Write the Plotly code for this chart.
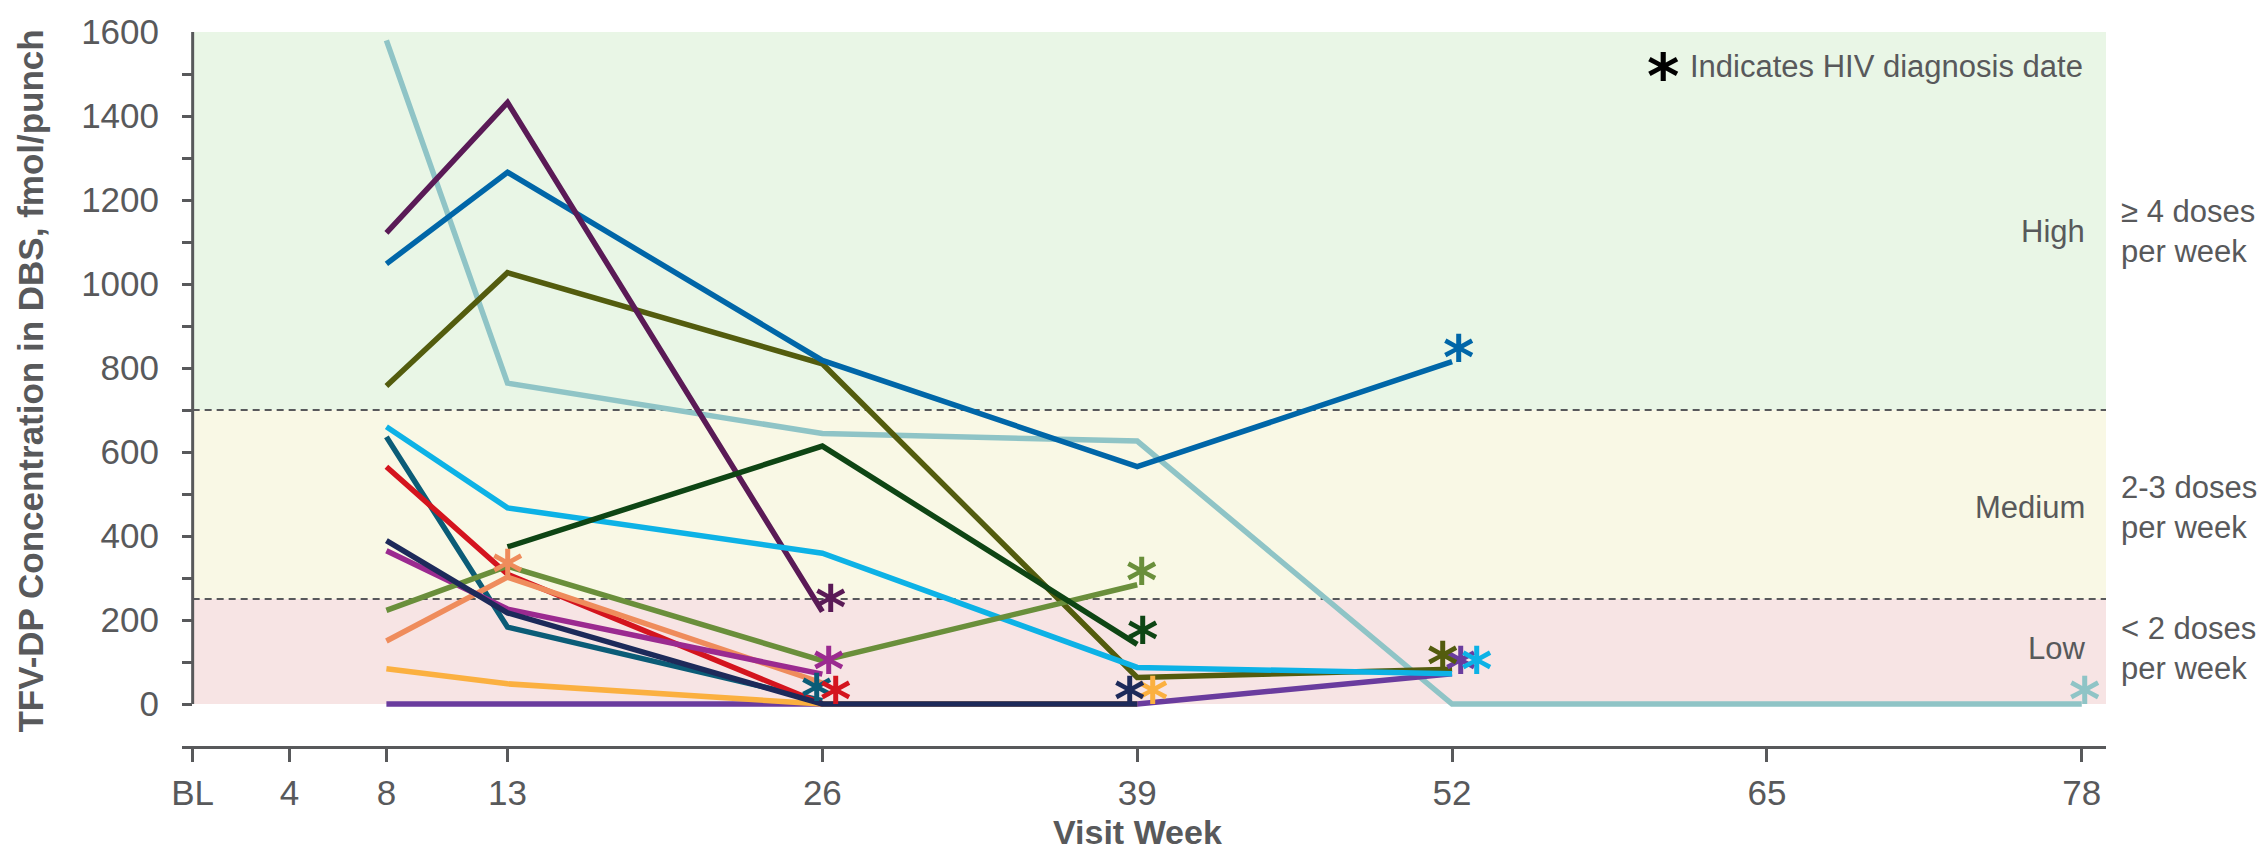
import plotly.graph_objects as go

# Visit weeks on the axis and their labels
tick_weeks = [0, 4, 8, 13, 26, 39, 52, 65, 78]
tick_labels = ["BL", "4", "8", "13", "26", "39", "52", "65", "78"]

# TFV-DP concentration per participant (fmol/punch) by visit week
p01_weeks = [8, 13, 26, 39, 52, 78]
p01_vals = [1580, 764, 644, 626, 0, 0]
p02_weeks = [8, 13, 26, 39, 52]
p02_vals = [0, 0, 0, 0, 72]
p03_weeks = [8, 13, 26, 39]
p03_vals = [84, 48, 0, 0]
p04_weeks = [8, 13, 26, 39, 52]
p04_vals = [757, 1027, 810, 63, 83]
p05_weeks = [8, 13, 26, 39, 52]
p05_vals = [1048, 1266, 818, 565, 815]
p06_weeks = [8, 13, 26]
p06_vals = [1122, 1432, 220]
p07_weeks = [8, 13, 26, 39, 52]
p07_vals = [660, 467, 359, 87, 72]
p08_weeks = [8, 13, 26]
p08_vals = [636, 183, 8]
p09_weeks = [8, 13, 26]
p09_vals = [565, 309, 0]
p10_weeks = [8, 13, 26]
p10_vals = [150, 302, 50]
p11_weeks = [8, 13, 26]
p11_vals = [365, 226, 71]
p12_weeks = [8, 13, 26, 39]
p12_vals = [223, 328, 103, 284]
p13_weeks = [13, 26, 39]
p13_vals = [374, 614, 142]
p14_weeks = [8, 13, 26, 39]
p14_vals = [389, 217, 0, 0]

# Week of HIV diagnosis for each participant
diag_weeks = [78, 52, 39, 52, 52, 26, 52, 26, 26, 13, 26, 39, 39, 39]

# Adherence bands (fmol/punch)
band_edges = [0, 250, 700, 1600]
band_names = ["Low", "Medium", "High"]
band_doses = ["< 2 doses<br>per week", "2-3 doses<br>per week", "\u2265 4 doses<br>per week"]

# ---- styling -------------------------------------------------------------
colors = ["#8fc4c6", "#6a3c9e", "#fbb040", "#535c0e", "#0066a8", "#5a1a56",
          "#0db2e6", "#0b5c77", "#d4141e", "#ef8c5c", "#9b2a90", "#6a8f3b",
          "#0e4514", "#1d2a5a"]
# horizontal nudge (px) of each diagnosis asterisk so coincident ones do not overlap
star_dx = [3, 8, 15, -10, 6, 8, 24, -6, 13, 0, 6, 4, 5, -8]
band_fill = ["#f7e4e4", "#f9f8e5", "#e9f6e6"]
AXIS = "#58595b"
FONT = "Liberation Sans, Arial, sans-serif"
STAR_FONT = "DejaVu Sans, sans-serif"

series = [
    (p01_weeks, p01_vals), (p02_weeks, p02_vals), (p03_weeks, p03_vals),
    (p04_weeks, p04_vals), (p05_weeks, p05_vals), (p06_weeks, p06_vals),
    (p07_weeks, p07_vals), (p08_weeks, p08_vals), (p09_weeks, p09_vals),
    (p10_weeks, p10_vals), (p11_weeks, p11_vals), (p12_weeks, p12_vals),
    (p13_weeks, p13_vals), (p14_weeks, p14_vals),
]

X_MAX = 79
fig = go.Figure()

for (wk, vals), col in zip(series, colors):
    fig.add_trace(go.Scatter(
        x=wk, y=vals, mode="lines",
        line=dict(color=col, width=5.5),
        hoverinfo="skip", showlegend=False,
    ))

shapes = []
for i in range(3):
    shapes.append(dict(type="rect", xref="x", yref="y", x0=0, x1=X_MAX,
                       y0=band_edges[i], y1=band_edges[i + 1],
                       fillcolor=band_fill[i], line=dict(width=0), layer="below"))
for edge in band_edges[1:3]:
    shapes.append(dict(type="line", xref="x", yref="y", x0=0, x1=X_MAX,
                       y0=edge, y1=edge, layer="below",
                       line=dict(color=AXIS, width=2, dash="7px,5px")))
# vertical axis line spanning only the measured range
shapes.append(dict(type="line", xref="x", yref="y", x0=0, x1=0,
                   y0=band_edges[0], y1=band_edges[-1],
                   line=dict(color=AXIS, width=3), layer="above"))

annotations = []
# diagnosis asterisks at each participant's last measurement
for (wk, vals), col, dw, dx in zip(series, colors, diag_weeks, star_dx):
    yv = vals[wk.index(dw)]
    annotations.append(dict(
        x=dw, y=yv, xref="x", yref="y", text="<b>*</b>", showarrow=False,
        xshift=dx, yshift=4,
        font=dict(family=STAR_FONT, size=60, color=col),
    ))

# band names and dose descriptions
band_label_y = [131, 467, 1125]
for name, doses, yv in zip(band_names, band_doses, band_label_y):
    annotations.append(dict(x=0.990, y=yv, xref="paper", yref="y", text=name,
                            showarrow=False, xanchor="right", yanchor="middle",
                            font=dict(family=FONT, size=31, color=AXIS)))
    annotations.append(dict(x=1.007, y=yv, xref="paper", yref="y", text=doses,
                            showarrow=False, xanchor="left", yanchor="middle",
                            align="left",
                            font=dict(family=FONT, size=31, color=AXIS)))

# key
annotations.append(dict(x=0.989, y=0.951, xref="paper", yref="paper",
                        text="Indicates HIV diagnosis date", showarrow=False,
                        xanchor="right", yanchor="middle",
                        font=dict(family=FONT, size=31, color=AXIS)))
annotations.append(dict(x=0.7695, y=0.951, xref="paper", yref="paper",
                        text="<b>*</b>", showarrow=False,
                        xanchor="center", yanchor="middle", yshift=-10,
                        font=dict(family=STAR_FONT, size=62, color="#000000")))

# axis titles
annotations.append(dict(x=-0.0788, y=0.511, xref="paper", yref="paper",
                        text="<b>TFV-DP Concentration in DBS, fmol/punch</b>",
                        textangle=-90, showarrow=False,
                        xanchor="center", yanchor="middle",
                        font=dict(family=FONT, size=35, color=AXIS)))
annotations.append(dict(x=39, y=-0.121, xref="x", yref="paper",
                        text="<b>Visit Week</b>", showarrow=False,
                        xanchor="center", yanchor="middle",
                        font=dict(family=FONT, size=34, color=AXIS)))

y_ticks = list(range(0, 1601, 100))
y_text = [str(v) if v % 200 == 0 else "" for v in y_ticks]

fig.update_layout(
    width=2264, height=851,
    margin=dict(l=182, r=158, t=28, b=105),
    paper_bgcolor="white", plot_bgcolor="white",
    shapes=shapes, annotations=annotations,
    xaxis=dict(range=[-0.44, X_MAX], tickvals=tick_weeks, ticktext=tick_labels,
               ticks="outside", ticklen=13, tickwidth=3, tickcolor=AXIS,
               showline=True, linewidth=3, linecolor=AXIS,
               showgrid=False, zeroline=False, ticklabelstandoff=1,
               tickfont=dict(family=FONT, size=35, color=AXIS)),
    yaxis=dict(range=[-100, 1600], tickvals=y_ticks, ticktext=y_text,
               ticks="inside", ticklen=10, tickwidth=3, tickcolor=AXIS,
               showline=False, showgrid=False, zeroline=False,
               ticklabelstandoff=22,
               tickfont=dict(family=FONT, size=35, color=AXIS)),
)

fig.write_html("out.html")
